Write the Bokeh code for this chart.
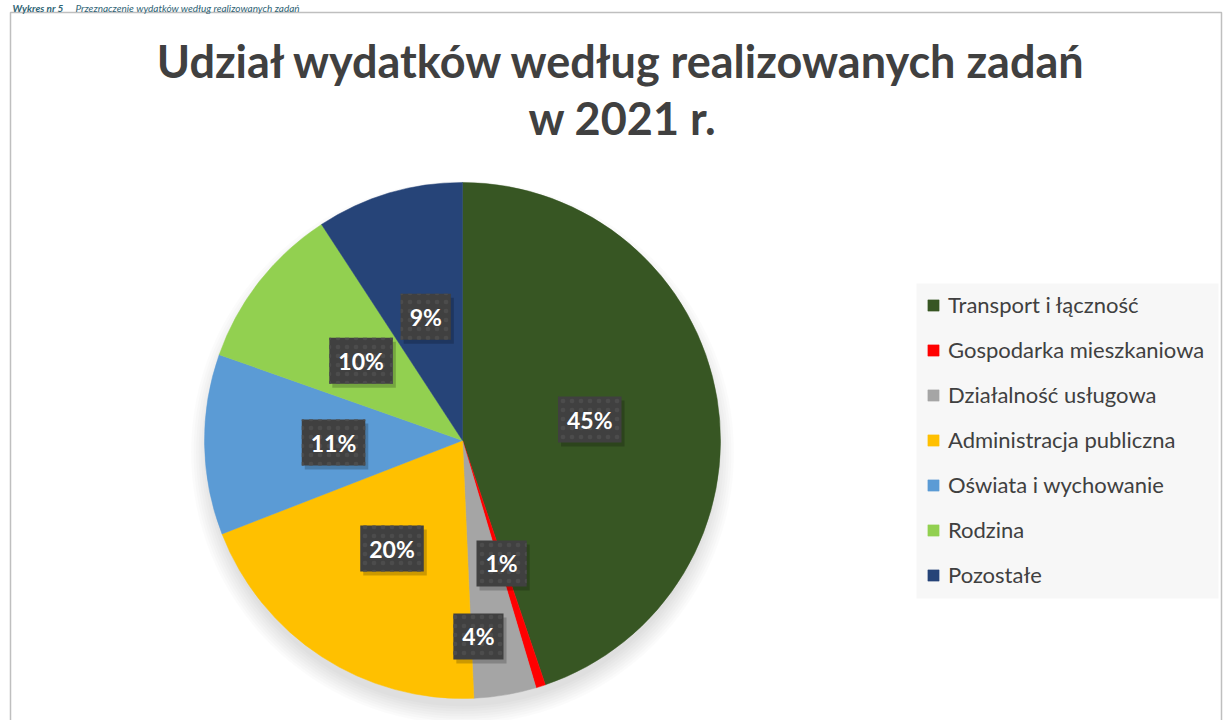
import math
from bokeh.plotting import figure
from bokeh.models import ColumnDataSource, Range1d, Legend, LegendItem
from bokeh.core.properties import value
from bokeh.embed import file_html
from bokeh.resources import INLINE

# ---- data ----
categories = ["Transport i łączność", "Gospodarka mieszkaniowa", "Działalność usługowa",
              "Administracja publiczna", "Oświata i wychowanie", "Rodzina", "Pozostałe"]
shares = [44.8, 0.6, 3.9, 19.8, 11.3, 10.4, 9.2]
labels = ["45%", "1%", "4%", "20%", "11%", "10%", "9%"]
colors = ["#375623", "#FF0000", "#A5A5A5", "#FFC000", "#5B9BD5", "#92D050", "#264478"]
title_lines = ["Udział wydatków według realizowanych zadań", "w 2021 r."]
caption_bold = "Wykres nr 5"
caption_text = "Przeznaczenie wydatków według realizowanych zadań"

# ---- layout (pixel-like data units) ----
W, H = 1223, 720
CX, CY, R = 462, 280, 258
label_r = [0.5, 0.5, 0.77, 0.5, 0.5, 0.5, 0.5]
label_dx = [0, 0, -17, 0, 0, 0, 0]
FONT = "Lato"

total = sum(shares)
starts, ends, lx, ly = [], [], [], []
cum = 0.0
for i, s in enumerate(shares):
    a0 = math.pi / 2 - 2 * math.pi * cum / total
    cum += s
    a1 = math.pi / 2 - 2 * math.pi * cum / total
    starts.append(a0)
    ends.append(a1)
    mid = (a0 + a1) / 2
    lx.append(CX + label_r[i] * R * math.cos(mid) + label_dx[i])
    ly.append(CY + label_r[i] * R * math.sin(mid))

src = ColumnDataSource(dict(cat=categories, start=starts, end=ends, color=colors,
                            lx=lx, ly=ly, lab=labels))

p = figure(width=W, height=H, output_backend="svg", toolbar_location=None,
           x_range=Range1d(0, W), y_range=Range1d(0, H),
           x_axis_type=None, y_axis_type=None, min_border=0)
p.outline_line_color = None
p.grid.visible = False
p.background_fill_color = "white"

# chart area border
p.quad(left=[10], right=[1221], top=[708], bottom=[-30], fill_color=None,
       line_color="#BFBFBF", line_width=1.5)

# caption above the chart area
p.text(x=[12], y=[712.5], text=[caption_bold], text_color="#2F6475",
       text_font=value(FONT), text_font_style="bold italic", text_font_size="10px",
       text_align="left", text_baseline="alphabetic")
p.text(x=[75], y=[712.5], text=[caption_text], text_color="#2F6475",
       text_font=value(FONT), text_font_style="italic", text_font_size="10px",
       text_align="left", text_baseline="alphabetic")

# legend box background
p.quad(left=[916], right=[1218], top=[720 - 283], bottom=[720 - 598],
       fill_color="#F7F7F7", line_color=None)

# soft shadow under pie
for k in range(8):
    p.circle(x=[CX], y=[CY - 12], radius=R - 4 + 2.5 * k, fill_color="#000000",
             fill_alpha=0.016, line_color=None)

# pie
wr = p.wedge(x=CX, y=CY, radius=R, start_angle="start", end_angle="end",
             direction="clock", fill_color="color", line_color="color",
             line_width=0.5, source=src)

# data label shadows
p.text(x="lx", y="ly", text="lab", source=src, text_alpha=0,
       text_font=value(FONT), text_font_style="bold", text_font_size="23px",
       text_align="center", text_baseline="middle", x_offset=3, y_offset=4,
       padding=9, background_fill_color="#000000", background_fill_alpha=0.2)
# data labels
p.text(x="lx", y="ly", text="lab", source=src, text_color="white",
       text_font=value(FONT), text_font_style="bold", text_font_size="23px",
       text_align="center", text_baseline="middle",
       padding=9, background_fill_color="#404040",
       background_hatch_pattern=".", background_hatch_color="#4C4C4C",
       background_hatch_scale=9)

# title
p.text(x=[622, 622], y=[660, 603], text=title_lines, text_color="#404040",
       text_font=value(FONT), text_font_style="bold", text_font_size="45px",
       text_align="center", text_baseline="alphabetic")

# legend
items = [LegendItem(label=c, renderers=[wr], index=i) for i, c in enumerate(categories)]
leg = Legend(items=items, location=(926, 132), orientation="vertical",
             glyph_width=14, glyph_height=14, label_height=26, spacing=18,
             padding=12, margin=0, label_standoff=8,
             label_text_font=FONT, label_text_font_size="22px",
             label_text_color="#404040", background_fill_alpha=0.0,
             border_line_color=None)
p.add_layout(leg, "center")

open("out.html", "w").write(file_html(p, INLINE))
